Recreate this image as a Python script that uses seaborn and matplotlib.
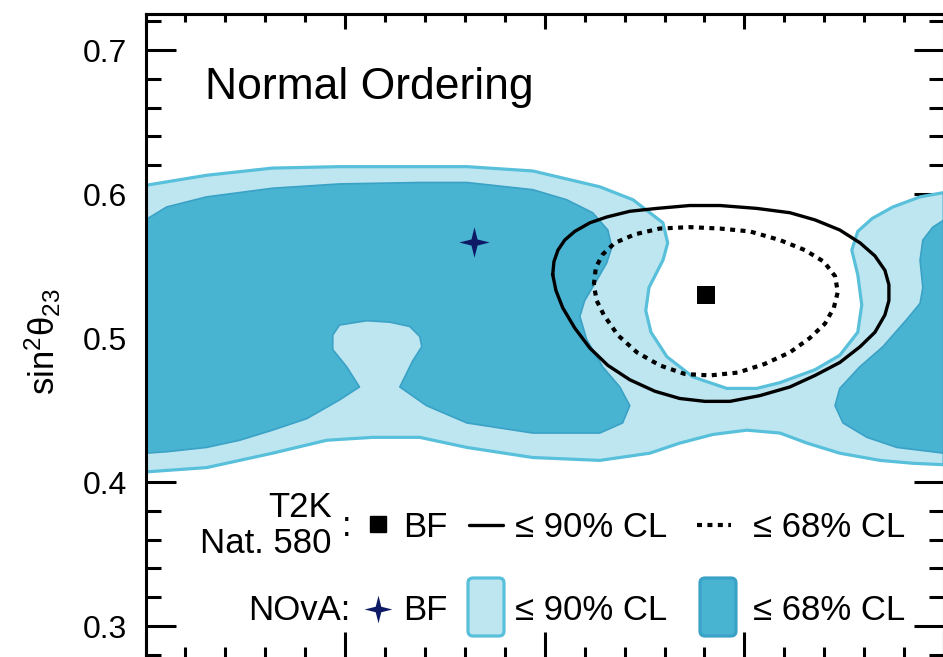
import matplotlib
matplotlib.use("Agg")
import matplotlib.pyplot as plt
import pandas as pd
import seaborn as sns
from matplotlib.lines import Line2D
from matplotlib.patches import FancyBboxPatch
from matplotlib.ticker import MultipleLocator

# ---- allowed regions in (delta_CP / pi, sin^2 theta_23) ----
# NOvA 90% CL: upper edge left -> right (dipping round the T2K island), then lower edge right -> left
nova90_dcp = [0.000, 0.153, 0.318, 0.486, 0.687, 0.805, 0.970, 1.138, 1.221, 1.296, 1.308,
              1.296, 1.261, 1.253, 1.266, 1.306, 1.371, 1.456, 1.531, 1.589, 1.677, 1.739,
              1.784, 1.794, 1.784, 1.769, 1.784, 1.820, 1.872, 1.940, 2.000,
              2.000, 1.922, 1.840, 1.739, 1.657, 1.589, 1.506, 1.421, 1.338, 1.263, 1.138,
              0.970, 0.805, 0.687, 0.569, 0.454, 0.318, 0.153, 0.000]
nova90_s23 = [0.606, 0.613, 0.618, 0.619, 0.619, 0.619, 0.616, 0.605, 0.596, 0.580, 0.566,
              0.554, 0.535, 0.519, 0.504, 0.487, 0.473, 0.465, 0.465, 0.469, 0.478, 0.488,
              0.504, 0.523, 0.544, 0.561, 0.574, 0.583, 0.591, 0.598, 0.601,
              0.412, 0.413, 0.415, 0.420, 0.427, 0.434, 0.436, 0.433, 0.427, 0.420, 0.415,
              0.417, 0.424, 0.431, 0.431, 0.429, 0.420, 0.410, 0.407]

# NOvA 68% CL, main island (with the notch in its lower edge)
nova68a_dcp = [0.000, 0.053, 0.153, 0.318, 0.486, 0.687, 0.805, 0.970, 1.055, 1.120, 1.158,
               1.168, 1.155, 1.130, 1.100, 1.088, 1.105, 1.145, 1.188, 1.213, 1.195, 1.138,
               0.970, 0.805, 0.704, 0.637, 0.669, 0.692, 0.687, 0.662, 0.612, 0.554, 0.486,
               0.469, 0.469, 0.504, 0.536, 0.486, 0.404, 0.318, 0.236, 0.153, 0.053, 0.000]
nova68a_s23 = [0.582, 0.591, 0.598, 0.604, 0.607, 0.608, 0.608, 0.603, 0.596, 0.587, 0.575,
               0.563, 0.552, 0.540, 0.526, 0.515, 0.499, 0.480, 0.466, 0.453, 0.441, 0.434,
               0.434, 0.441, 0.453, 0.466, 0.484, 0.494, 0.501, 0.508, 0.511, 0.512, 0.509,
               0.502, 0.492, 0.480, 0.466, 0.457, 0.444, 0.436, 0.429, 0.424, 0.421, 0.420]

# NOvA 68% CL, island wrapping round delta_CP = 2 pi
nova68b_dcp = [2.000, 1.972, 1.947, 1.940, 1.947, 1.940, 1.907, 1.847, 1.789, 1.739, 1.727,
               1.747, 1.807, 1.882, 2.000]
nova68b_s23 = [0.582, 0.577, 0.568, 0.554, 0.535, 0.524, 0.513, 0.494, 0.480, 0.465, 0.453,
               0.441, 0.431, 0.424, 0.420]

# T2K (Nature 580) contours
t2k90_dcp = [1.020, 1.023, 1.033, 1.050, 1.075, 1.113, 1.155, 1.213, 1.281, 1.363, 1.439,
             1.531, 1.614, 1.677, 1.739, 1.790, 1.827, 1.852, 1.862, 1.862, 1.852, 1.827,
             1.790, 1.739, 1.677, 1.614, 1.539, 1.464, 1.401, 1.338, 1.276, 1.213, 1.158,
             1.113, 1.075, 1.045, 1.028]
t2k90_s23 = [0.544, 0.553, 0.561, 0.568, 0.574, 0.580, 0.584, 0.588, 0.590, 0.592, 0.592,
             0.590, 0.587, 0.582, 0.575, 0.566, 0.557, 0.547, 0.537, 0.526, 0.516, 0.504,
             0.494, 0.483, 0.474, 0.466, 0.460, 0.456, 0.456, 0.458, 0.463, 0.471, 0.481,
             0.493, 0.507, 0.521, 0.533]
t2k68_dcp = [1.123, 1.128, 1.145, 1.175, 1.226, 1.288, 1.363, 1.439, 1.514, 1.589, 1.652,
             1.699, 1.727, 1.734, 1.724, 1.702, 1.664, 1.614, 1.551, 1.484, 1.414, 1.351,
             1.288, 1.231, 1.183, 1.148, 1.130]
t2k68_s23 = [0.537, 0.549, 0.558, 0.566, 0.572, 0.576, 0.577, 0.576, 0.574, 0.568, 0.561,
             0.553, 0.543, 0.532, 0.521, 0.510, 0.500, 0.490, 0.482, 0.476, 0.474, 0.475,
             0.481, 0.490, 0.502, 0.516, 0.526]

# best fits
t2k_bf_dcp, t2k_bf_s23 = [1.403], [0.530]
nova_bf_dcp, nova_bf_s23 = [0.822], [0.567]

# tick values
y_major = [0.3, 0.4, 0.5, 0.6, 0.7]

LIGHT = "#bee6f0"
LIGHT_EDGE = "#58c0db"
DARK = "#49b3d2"
DARK_EDGE = "#3aa2c6"
NAVY = "#0e1a66"
STAR = [(0, 1), (0.2, 0.2), (1, 0), (0.2, -0.2), (0, -1), (-0.2, -0.2), (-1, 0), (-0.2, 0.2), (0, 1)]

sns.set_theme(style="ticks")
plt.rcParams["font.family"] = ["Liberation Sans", "DejaVu Sans"]
plt.rcParams["mathtext.fontset"] = "custom"
plt.rcParams["mathtext.rm"] = "Liberation Sans"
plt.rcParams["mathtext.it"] = "Liberation Sans:italic"
plt.rcParams["mathtext.default"] = "regular"

W, H, DPI = 943, 657, 100
fig = plt.figure(figsize=(W / DPI, H / DPI), dpi=DPI)
fig.patch.set_facecolor("white")
ax = fig.add_axes([145.5 / W, 1 - 662 / H, 798.5 / W, 648 / H])
ax.set_facecolor("white")


def closed(xs, ys):
    return pd.DataFrame({"dcp": list(xs) + [xs[0]], "s23": list(ys) + [ys[0]]})


# NOvA filled regions
ax.fill(nova90_dcp, nova90_s23, facecolor=LIGHT, edgecolor=LIGHT_EDGE, lw=2.3,
        joinstyle="round", zorder=1)
ax.fill(nova68a_dcp, nova68a_s23, facecolor=DARK, edgecolor=DARK_EDGE, lw=1.2,
        joinstyle="round", zorder=2)
ax.fill(nova68b_dcp, nova68b_s23, facecolor=DARK, edgecolor=DARK_EDGE, lw=1.2,
        joinstyle="round", zorder=2)

# T2K contours
sns.lineplot(data=closed(t2k90_dcp, t2k90_s23), x="dcp", y="s23", sort=False,
             estimator=None, color="black", lw=2.4, solid_joinstyle="round", ax=ax, zorder=4)
sns.lineplot(data=closed(t2k68_dcp, t2k68_s23), x="dcp", y="s23", sort=False,
             estimator=None, color="black", lw=3.0, linestyle=(0, (1.2, 1.3)), ax=ax, zorder=4)

# best-fit points
sns.scatterplot(x=t2k_bf_dcp, y=t2k_bf_s23, marker="s", s=150, color="black",
                linewidth=0, ax=ax, zorder=5)
sns.scatterplot(x=nova_bf_dcp, y=nova_bf_s23, marker=STAR, s=480, color=NAVY,
                linewidth=0, ax=ax, zorder=5)

# axes, ticks
ax.set_xlim(0, 2)
ax.set_ylim(0.275, 0.725)
ax.xaxis.set_major_locator(MultipleLocator(0.5))
ax.xaxis.set_minor_locator(MultipleLocator(0.1))
ax.set_yticks(y_major)
ax.set_yticklabels([f"{v:.1f}" for v in y_major])
ax.yaxis.set_minor_locator(MultipleLocator(0.02))
ax.set_xlabel("")
ax.set_ylabel("sin$^{2}$θ$_{23}$", fontsize=25, color="black")
ax.yaxis.set_label_coords(-0.103, 0.495)
ax.tick_params(which="both", direction="in", left=True, right=True, bottom=True, top=False,
               labelbottom=False, width=2.2, color="black")
ax.tick_params(which="major", length=21.6)
ax.tick_params(which="minor", length=10.8)
ax.tick_params(axis="y", labelsize=23, pad=13, labelcolor="black")
for sp in ax.spines.values():
    sp.set_visible(True)
    sp.set_linewidth(2.2)
    sp.set_color("black")
    sp.set_zorder(10)

top = ax.secondary_xaxis("top")
top.xaxis.set_major_locator(MultipleLocator(0.5))
top.xaxis.set_minor_locator(MultipleLocator(0.1))
top.tick_params(which="both", direction="in", width=2.2, color="black", labeltop=False)
top.tick_params(which="major", length=11)
top.tick_params(which="minor", length=5.5)
top.spines["top"].set_linewidth(2.2)

# panel title
tr = fig.dpi_scale_trans


def at(x, y):
    return (x / DPI, (H - y) / DPI)


fig.text(*at(205, 99), "Normal Ordering", transform=tr, fontsize=32, ha="left",
         va="baseline", color="black")

# legend block
lt = dict(transform=tr, fontsize=25, color="black", va="baseline")
fig.text(*at(332, 517), "T2K", ha="right", **lt)
fig.text(*at(332, 553), "Nat. 580", ha="right", **lt)
fig.text(*at(347, 536), ":", ha="center", **lt)
fig.add_artist(Line2D([378 / DPI], [(H - 524) / DPI], transform=tr, marker="s", ms=12,
                      color="black", ls="none"))
fig.text(*at(403, 537), "BF", ha="left", **lt)
fig.add_artist(Line2D([469 / DPI, 503 / DPI], [(H - 525) / DPI] * 2, transform=tr,
                      color="black", lw=2.4))
fig.text(*at(515, 537), "≤ 90% CL", ha="left", **lt)
fig.add_artist(Line2D([697 / DPI, 731 / DPI], [(H - 525) / DPI] * 2, transform=tr,
                      color="black", lw=3.0, ls=(0, (1.2, 1.3))))
fig.text(*at(753, 537), "≤ 68% CL", ha="left", **lt)

fig.text(*at(350, 620), "NOvA:", ha="right", **lt)
fig.add_artist(Line2D([378 / DPI], [(H - 609) / DPI], transform=tr, marker=STAR, ms=20,
                      color=NAVY, mew=0, ls="none"))
fig.text(*at(403, 620), "BF", ha="left", **lt)
fig.add_artist(FancyBboxPatch((468 / DPI, (H - 636) / DPI), 36 / DPI, 58 / DPI,
                              boxstyle="round,pad=0,rounding_size=0.05", transform=tr,
                              facecolor=LIGHT, edgecolor=LIGHT_EDGE, lw=2.3))
fig.text(*at(515, 620), "≤ 90% CL", ha="left", **lt)
fig.add_artist(FancyBboxPatch((700 / DPI, (H - 636) / DPI), 36 / DPI, 58 / DPI,
                              boxstyle="round,pad=0,rounding_size=0.05", transform=tr,
                              facecolor=DARK, edgecolor=DARK_EDGE, lw=2.3))
fig.text(*at(753, 620), "≤ 68% CL", ha="left", **lt)

fig.savefig("out.png", dpi=DPI)
